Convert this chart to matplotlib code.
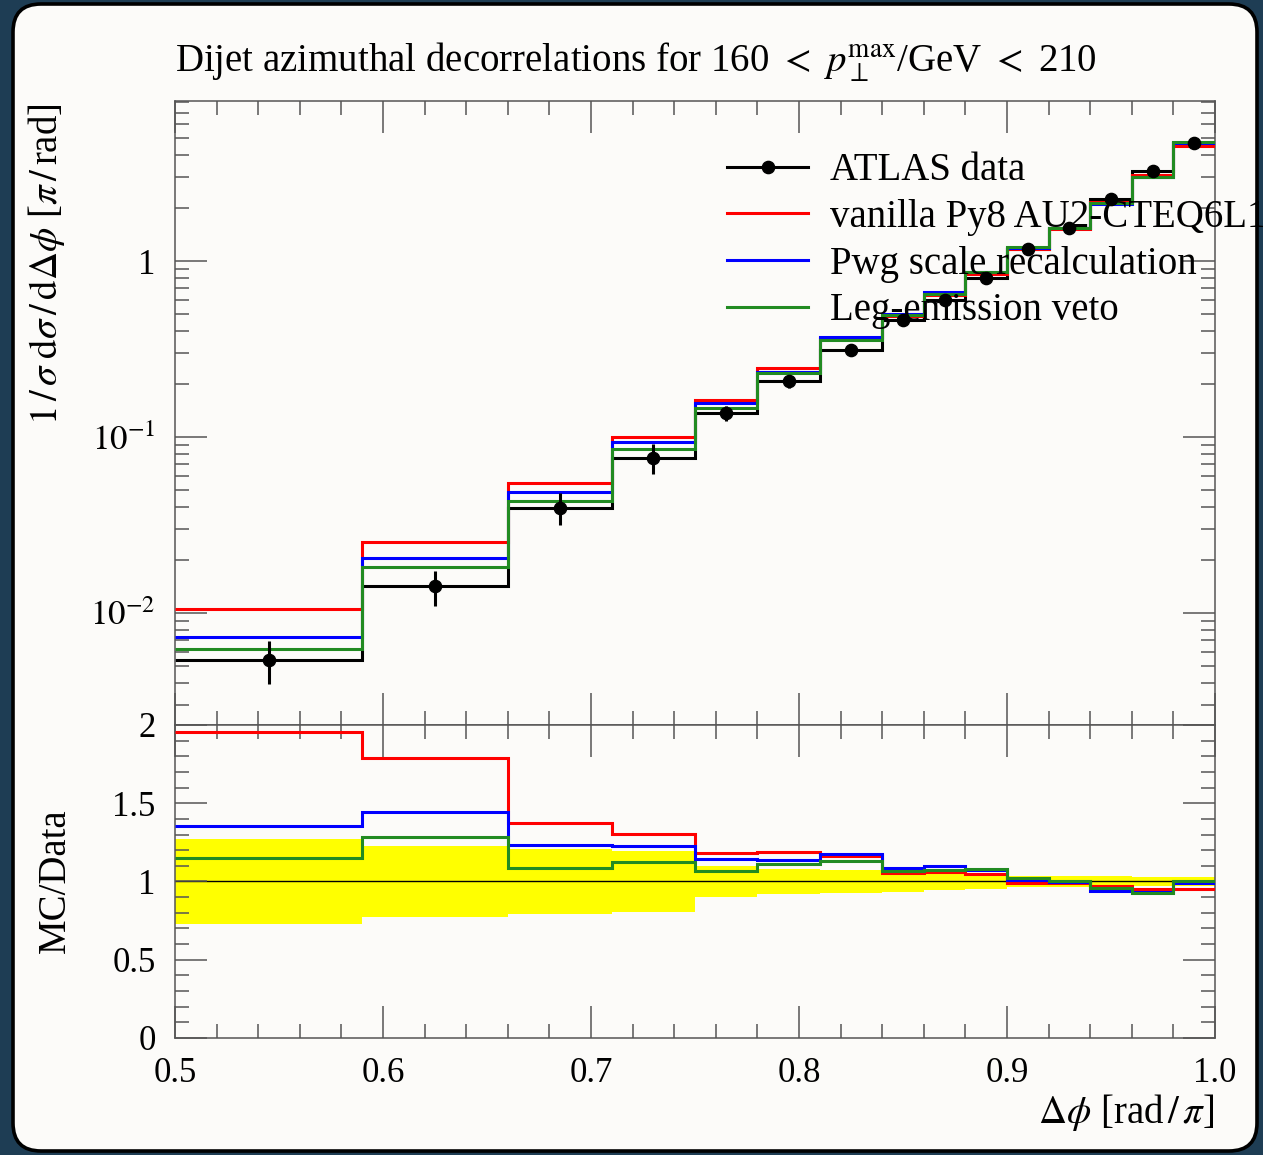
import numpy as np
import matplotlib
matplotlib.use("Agg")
import matplotlib.pyplot as plt
from matplotlib.patches import FancyBboxPatch
from matplotlib.lines import Line2D
from matplotlib.ticker import MultipleLocator, LogLocator, NullFormatter, FormatStrFormatter

plt.rcParams['font.family'] = ['Liberation Serif', 'DejaVu Serif']
plt.rcParams['mathtext.fontset'] = 'stix'

# bin edges in delta phi [rad/pi]
edges = np.array([0.5, 0.59, 0.66, 0.71, 0.75, 0.78, 0.81, 0.84, 0.86,
                  0.88, 0.90, 0.92, 0.94, 0.96, 0.98, 1.0])

# ATLAS data, 1/sigma dsigma/ddphi, and relative uncertainty
data = np.array([0.00539, 0.01412, 0.0397, 0.0762, 0.137, 0.207, 0.314, 0.461,
                 0.605, 0.804, 1.18, 1.55, 2.25, 3.25, 4.72])
rel_err = np.array([0.274, 0.229, 0.208, 0.194, 0.096, 0.083, 0.075, 0.070,
                    0.057, 0.050, 0.036, 0.034, 0.032, 0.028, 0.027])

# MC / data ratios
ratio_py8 = np.array([1.957, 1.792, 1.375, 1.304, 1.183, 1.190, 1.160, 1.055,
                      1.060, 1.050, 0.993, 0.988, 0.970, 0.955, 0.955])
ratio_scale = np.array([1.353, 1.445, 1.232, 1.227, 1.146, 1.136, 1.173, 1.086,
                        1.100, 1.075, 1.010, 0.998, 0.941, 0.930, 0.990])
ratio_veto = np.array([1.153, 1.285, 1.085, 1.123, 1.070, 1.111, 1.131, 1.068,
                       1.074, 1.078, 1.020, 1.000, 0.957, 0.925, 1.004])

labels = ['ATLAS data', 'vanilla Py8 AU2-CTEQ6L1', 'Pwg scale recalculation',
          'Leg-emission veto']
colors = ['red', 'blue', '#228b22']
ratios = [ratio_py8, ratio_scale, ratio_veto]

centers = 0.5 * (edges[1:] + edges[:-1])
FS = 28
LW = 2.2
TICK = '#555555'

fig = plt.figure(figsize=(12.63, 11.55), dpi=100)
fig.patch.set_facecolor('#1e3d54')

# rounded card behind everything, border on top
card = FancyBboxPatch((0.13, 0.04), 12.44, 11.47,
                      boxstyle='round,pad=0,rounding_size=0.28',
                      transform=fig.dpi_scale_trans, facecolor='#fcfbf9',
                      edgecolor='none', zorder=-5)
fig.patches.append(card)
border = FancyBboxPatch((0.13, 0.04), 12.44, 11.47,
                        boxstyle='round,pad=0,rounding_size=0.28',
                        transform=fig.dpi_scale_trans, facecolor='none',
                        edgecolor='black', lw=2.6, zorder=10)
fig.patches.append(border)

ax = fig.add_axes([0.13856, 0.37229, 0.82344, 0.54026])
rax = fig.add_axes([0.13856, 0.10130, 0.82344, 0.27100])

for a in (ax, rax):
    a.set_facecolor('#fcfbf9')
    a.set_xlim(0.5, 1.0)
    a.xaxis.set_major_locator(MultipleLocator(0.1))
    a.xaxis.set_minor_locator(MultipleLocator(0.02))
    a.tick_params(which='both', direction='in', top=True, right=True,
                  color=TICK, width=1.1, labelsize=25, pad=14)
    a.tick_params(which='major', length=23)
    a.tick_params(which='minor', length=10)
    for s in a.spines.values():
        s.set_color(TICK)
        s.set_linewidth(1.1)

# main panel
ax.stairs(data, edges, baseline=None, color='black', lw=LW, zorder=2)
for r, c in zip(ratios, colors):
    ax.stairs(data * r, edges, baseline=None, color=c, lw=LW, zorder=3)
ax.errorbar(centers, data, yerr=data * rel_err, fmt='o', color='black',
            ms=8.8, elinewidth=2.2, capsize=0, zorder=4)
ax.set_yscale('log')
ax.set_ylim(0.0023, 8.15)
ax.set_yticks([0.01, 0.1, 1], labels=[r'$10^{-2}$', r'$10^{-1}$', '1'])
ax.yaxis.set_minor_locator(LogLocator(base=10, subs=np.arange(2, 10), numticks=20))
ax.yaxis.set_minor_formatter(NullFormatter())
ax.tick_params(labelbottom=False)

handles = [Line2D([], [], color='black', lw=LW, marker='o', ms=8.8)]
handles += [Line2D([], [], color=c, lw=LW) for c in colors]
leg = ax.legend(handles, labels, loc='upper left', bbox_to_anchor=(0.531, 0.918),
                frameon=False, fontsize=FS, handlelength=2.08, handletextpad=0.55,
                labelspacing=0.25, borderpad=0, borderaxespad=0)
for t in leg.get_texts():
    t.set_clip_path(card)

# ratio panel
rax.bar(edges[:-1], 2 * rel_err, bottom=1 - rel_err, width=np.diff(edges),
        align='edge', color='yellow', lw=0, zorder=1)
rax.axhline(1.0, color='black', lw=1.0, zorder=1.5)
for r, c in zip(ratios, colors):
    rax.stairs(r, edges, baseline=None, color=c, lw=LW, zorder=3)
rax.set_ylim(0, 2)
rax.set_yticks([0, 0.5, 1, 1.5, 2], labels=['0', '0.5', '1', '1.5', '2'])
rax.yaxis.set_minor_locator(MultipleLocator(0.1))
rax.xaxis.set_major_formatter(FormatStrFormatter('%.1f'))

# labels
W, H = 1263, 1155
fig.text(175 / W, 1 - 72 / H,
         r'Dijet azimuthal decorrelations for 160 $<$ $p_\perp^\mathrm{max}$/GeV $<$ 210',
         ha='left', va='baseline', fontsize=FS)
fig.text(47 / W, 1 - 103 / H,
         r'$1\,/\,\sigma\;\mathrm{d}\sigma\,/\,\mathrm{d}\Delta\phi$ [$\pi\,/\,$rad]',
         rotation=90, ha='center', va='top', fontsize=FS)
fig.text(55 / W, 1 - 881 / H, 'MC/Data', rotation=90, ha='center',
         va='center', fontsize=FS)
fig.text(1215 / W, 1 - 1123 / H, r'$\Delta\phi$ [rad$\,/\,\pi$]', ha='right',
         va='baseline', fontsize=FS)

fig.savefig('out.png', dpi=100, facecolor=fig.get_facecolor())
